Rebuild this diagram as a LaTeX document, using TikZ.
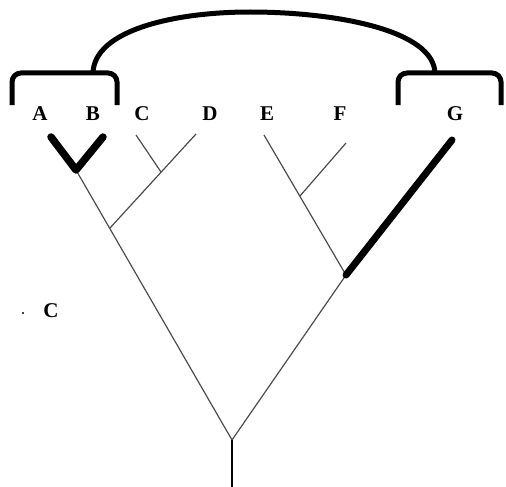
\documentclass[tikz,border=0pt]{standalone}
\usepackage{fontspec}
\setmainfont{Liberation Serif}
\begin{document}
\begin{tikzpicture}[x=1pt,y=-1pt,
  lbl/.style={font=\fontsize{21}{21}\selectfont\bfseries, inner sep=0pt},
  thin branch/.style={draw=black!70, line width=1.2pt},
  heavy/.style={draw=black, line width=7.5pt, line cap=round, line join=round},
  bracket/.style={draw=black, line width=5pt, rounded corners=9pt},
  arcline/.style={draw=black, line width=5pt}]
\useasboundingbox (0,0) rectangle (506,487);
% labels
\node[lbl] (A) at (40,114) {A};
\node[lbl] (B) at (93,114) {B};
\node[lbl] (C) at (142,114) {C};
\node[lbl] (D) at (210,114) {D};
\node[lbl] (E) at (267,114) {E};
\node[lbl] (F) at (340,114) {F};
\node[lbl] (G) at (455,114) {G};
\node[lbl] (C2) at (51,311) {C};
\fill (23,313) circle (1.1pt);
% tree coordinates
\coordinate (root) at (232,440);
\coordinate (base) at (232,487);
\coordinate (ab) at (76,170);
\coordinate (tA) at (51,137);
\coordinate (tB) at (103,137);
\coordinate (cd) at (110,228);
\coordinate (cdj) at (161,172);
\coordinate (tC) at (136,135);
\coordinate (tD) at (196,134);
\coordinate (efg) at (346,275);
\coordinate (ef) at (300,196);
\coordinate (tE) at (264,135);
\coordinate (tF) at (346,143);
\coordinate (tG) at (452,140);
% thin branches
\draw[thin branch] (ab) -- (root) -- (efg);
\draw[thin branch] (cd) -- (tD);
\draw[thin branch] (cdj) -- (tC);
\draw[thin branch] (efg) -- (tE);
\draw[thin branch] (ef) -- (tF);
\draw[draw=black, line width=1.5pt] (root) -- (base);
% heavy branches
\draw[heavy] (tA) -- (ab) -- (tB);
\draw[heavy, line width=7pt] (efg) -- (tG);
% brackets
\coordinate (lb1) at (12,105);
\coordinate (lb2) at (117,105);
\coordinate (rb1) at (398,105);
\coordinate (rb2) at (501,105);
\draw[bracket] (lb1) |- (64,73) -| (lb2);
\draw[bracket] (rb1) |- (450,73) -| (rb2);
\coordinate (a1) at (93,74);
\coordinate (atop) at (250,12);
\coordinate (a2) at (435,74);
\draw[arcline] (a1) .. controls (93,30) and (175,12) .. (atop) .. controls (335,12) and (435,30) .. (a2);
\end{tikzpicture}
\end{document}
